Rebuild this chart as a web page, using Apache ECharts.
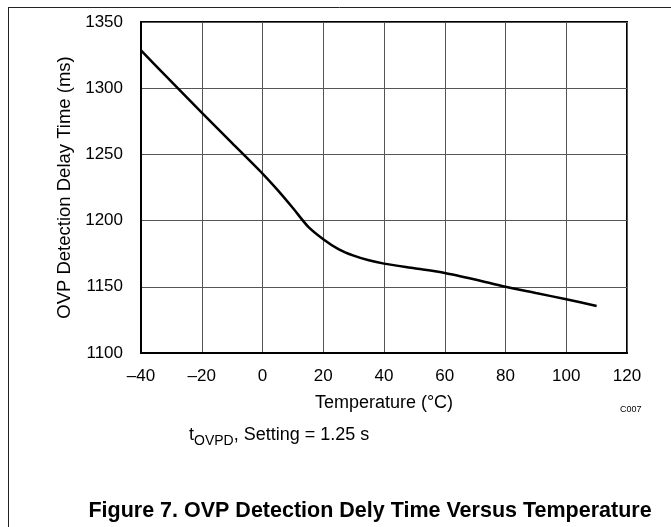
<!DOCTYPE html>
<html>
<head>
<meta charset="utf-8">
<script src="https://cdn.jsdelivr.net/npm/echarts@6/dist/echarts.min.js"></script>
<style>
  html, body { margin: 0; padding: 0; background: #fff; }
  #chart { width: 671px; height: 527px; }
</style>
</head>
<body>
<div id="chart"></div>
<script>
// Data
var temperature = [-40, -30, -20, -10, 0, 5, 10, 15, 20, 25, 30, 35, 40, 50, 60, 70, 80, 90, 100, 110];
var delayTime   = [1328.5, 1305, 1281.5, 1258.5, 1235.5, 1223, 1209.5, 1195.5, 1186, 1178.5, 1173.5, 1170, 1167.5, 1164, 1160.5, 1155.5, 1150, 1145.3, 1140.6, 1135.5];
var xTicks = { min: -40, max: 120, interval: 20 };
var yTicks = { min: 1100, max: 1350, interval: 50 };
var xAxisTitle = 'Temperature (°C)';
var yAxisTitle = 'OVP Detection Delay Time (ms)';
var figureTitle = 'Figure 7. OVP Detection Dely Time Versus Temperature';
var codeLabel = 'C007';

var seriesData = temperature.map(function (t, i) { return [t, delayTime[i]]; });
var FONT = 'Liberation Sans, Arial, Helvetica, sans-serif';

var chart = echarts.init(document.getElementById('chart'), null, { renderer: 'canvas' });
chart.setOption({
  animation: false,
  backgroundColor: '#fff',
  grid: { left: 141, right: 44, top: 22, bottom: 174, show: true, borderColor: '#000', borderWidth: 2, backgroundColor: 'transparent' },
  xAxis: {
    type: 'value', min: xTicks.min, max: xTicks.max, interval: xTicks.interval,
    name: xAxisTitle, nameLocation: 'middle', nameGap: 41,
    nameTextStyle: { color: '#000', fontSize: 18, fontFamily: FONT },
    axisLine: { show: true, onZero: false, lineStyle: { color: '#000', width: 2 } },
    axisTick: { show: false },
    axisLabel: { color: '#000', fontSize: 17, fontFamily: FONT, margin: 15,
      formatter: function (v) { return String(v).replace('-', '\u2013'); } },
    splitLine: { show: true, lineStyle: { color: '#555', width: 1 } }
  },
  yAxis: {
    type: 'value', min: yTicks.min, max: yTicks.max, interval: yTicks.interval,
    name: yAxisTitle, nameLocation: 'middle', nameGap: 57, nameRotate: 90,
    nameTextStyle: { color: '#000', fontSize: 18.5, fontFamily: FONT },
    axisLine: { show: true, onZero: false, lineStyle: { color: '#000', width: 2 } },
    axisTick: { show: false },
    axisLabel: { color: '#000', fontSize: 17, fontFamily: FONT, margin: 18,
      formatter: function (v) { return String(v); } },
    splitLine: { show: true, lineStyle: { color: '#555', width: 1 } }
  },
  series: [{
    type: 'line', data: seriesData, smooth: 0.25, showSymbol: false,
    lineStyle: { color: '#000', width: 2.5 }
  }],
  graphic: [
    { type: 'line', shape: { x1: 8, y1: 7.5, x2: 671, y2: 7.5 }, style: { stroke: '#222', lineWidth: 1 } },
    { type: 'line', shape: { x1: 8.5, y1: 7, x2: 8.5, y2: 527 }, style: { stroke: '#222', lineWidth: 1 } },
    { type: 'text', left: 620, top: 405, style: { text: codeLabel, fontSize: 9, fontFamily: FONT, fill: '#000' } },
    { type: 'text', left: 189, top: 426, style: {
        text: '{m|t}{s|OVPD}{m|, Setting = 1.25 s}',
        rich: {
          m: { fontSize: 18, fontFamily: FONT, fill: '#000', color: '#000', verticalAlign: 'bottom', lineHeight: 22 },
          s: { fontSize: 14, fontFamily: FONT, fill: '#000', color: '#000', verticalAlign: 'bottom', lineHeight: 22, padding: [0, 0, -4, 0] }
        }
      } },
    { type: 'text', x: 370, y: 511, style: { text: figureTitle, fontSize: 21.5, fontWeight: 'bold', fontFamily: FONT, fill: '#000', align: 'center', verticalAlign: 'middle' } }
  ]
});
</script>
</body>
</html>
